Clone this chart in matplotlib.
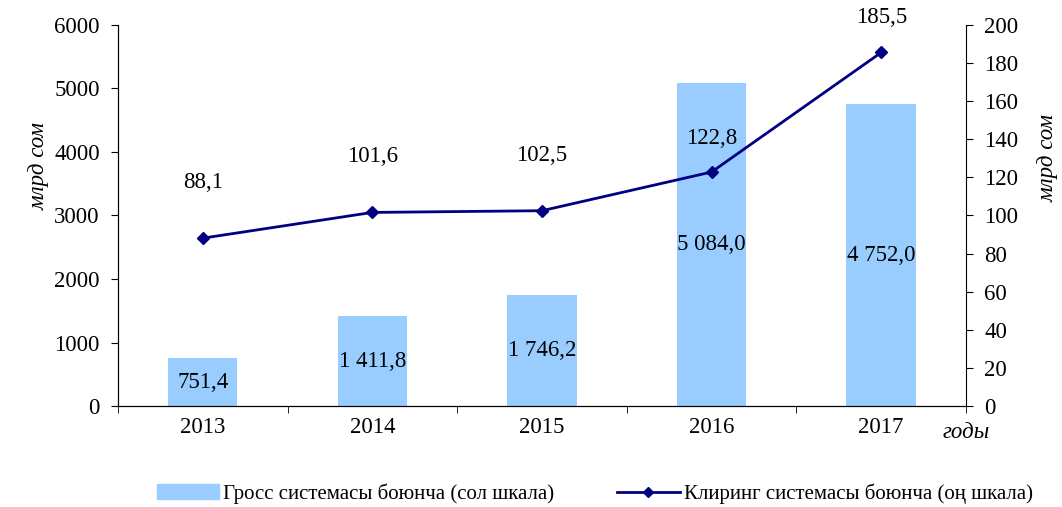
import matplotlib.pyplot as plt
import numpy as np

plt.rcParams['font.family'] = ['Liberation Serif', 'DejaVu Serif']

years = ["2013", "2014", "2015", "2016", "2017"]
gross = [751.4, 1411.8, 1746.2, 5084.0, 4752.0]
clearing = [88.1, 101.6, 102.5, 122.8, 185.5]
gross_labels = ["751,4", "1 411,8", "1 746,2", "5 084,0", "4 752,0"]
clearing_labels = ["88,1", "101,6", "102,5", "122,8", "185,5"]

# label offsets above the line points (pt)
line_offsets = [40, 40, 40, 24, 25]

FS = 16.5

fig = plt.figure(figsize=(10.62, 5.07), dpi=100)
ax = fig.add_axes([0.111, 0.199, 0.7986, 0.752])
ax2 = ax.twinx()

x = np.arange(len(years))
ax.bar(x, gross, width=0.41, color="#99CCFF", zorder=1)
for xi, v, lab in zip(x, gross, gross_labels):
    ax.text(xi, v / 2, lab, ha="center", va="center", fontsize=FS)

ax2.plot(x, clearing, color="#000080", lw=2, marker="D", markersize=6, zorder=3)
for xi, v, lab, off in zip(x, clearing, clearing_labels, line_offsets):
    ax2.annotate(lab, (xi, v), xytext=(0, off), textcoords="offset points",
                 ha="center", va="center", fontsize=FS)

ax.set_xlim(-0.5, len(years) - 0.5)
ax.set_ylim(0, 6000)
ax.set_yticks(range(0, 6001, 1000))
ax2.set_ylim(0, 200)
ax2.set_yticks(range(0, 201, 20))

ax.set_xticks(x)
ax.set_xticklabels(years)
ax.set_xticks(np.arange(-0.5, len(years), 1), minor=True)
ax.tick_params(axis="x", which="major", length=0, labelsize=FS, pad=8)
ax.tick_params(axis="x", which="minor", length=5, direction="out")
ax.tick_params(axis="y", labelsize=FS, length=5, pad=8)
ax2.tick_params(axis="y", labelsize=FS, length=5, pad=8)

for a in (ax, ax2):
    a.spines["top"].set_visible(False)
ax.spines["right"].set_visible(False)

ax.set_ylabel("млрд сом", fontsize=FS, style="italic")
ax2.set_ylabel("млрд сом", fontsize=FS, style="italic")
ax.yaxis.set_label_coords(-0.08, 0.63)
ax2.yaxis.set_label_coords(1.084, 0.65)
ax.text(1.0, -0.07, "годы", transform=ax.transAxes, ha="center", va="center",
        fontsize=FS, style="italic")

h1 = plt.Rectangle((0, 0), 1, 1, color="#99CCFF")
h2 = plt.Line2D([], [], color="#000080", lw=2, marker="D", markersize=5)
fig.legend([h1, h2],
           ["Гросс системасы боюнча (сол шкала)", "Клиринг системасы боюнча (оң шкала)"],
           loc="center", bbox_to_anchor=(0.56, 0.026), ncol=2, frameon=False,
           fontsize=15, handlelength=3.0, columnspacing=3.0, handletextpad=0.2)

fig.savefig("out.png", dpi=100)
